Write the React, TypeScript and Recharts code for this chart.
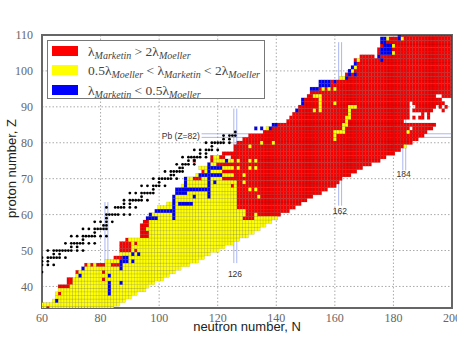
import type { FC } from 'react';
import {
  ScatterChart,
  Scatter,
  XAxis,
  YAxis,
  CartesianGrid,
  ReferenceLine,
  ReferenceArea,
  ReferenceDot,
  Legend,
} from 'recharts';

const CHART_W = 457;
const CHART_H = 343;
const MARGIN = { top: 35, right: 5, bottom: 0, left: 0 };
const X_AXIS_H = 35;
const Y_AXIS_W = 42;
const CELL_W = (CHART_W - MARGIN.right - Y_AXIS_W) / 140;
const CELL_H = (CHART_H - MARGIN.top - X_AXIS_H) / 76;

const xTicks = [60, 80, 100, 120, 140, 160, 180, 200];
const yTicks = [40, 50, 60, 70, 80, 90, 100, 110];

// first and last coloured N of each row, Z = 34 .. 110
const firstZ = 34;
const rowStart = [
  60, 60, 64, 65, 65, 66, 66, 69, 69, 72, 72, 74, 75, 82, 85, 87, 87, 87, 87, 89,
  94, 94, 94, 94, 95, 96, 97, 99, 100, 103, 105, 105, 106, 106, 108, 109, 110, 113,
  116, 114, 117, 118, 118, 122, 126, 126, 127, 129, 131, 136, 138, 139, 144, 145,
  146, 147, 148, 149, 149, 151, 152, 153, 155, 155, 162, 164, 165, 166, 167, 167,
  169, 175, 175, 176, 176, 176, 183,
];
const rowEnd = [
  84, 86, 88, 90, 92, 95, 96, 98, 101, 103, 105, 107, 110, 113, 115, 117, 120, 122,
  125, 127, 130, 132, 134, 136, 138, 140, 141, 144, 146, 148, 150, 152, 155, 157,
  160, 161, 162, 165, 167, 169, 172, 175, 177, 180, 182, 184, 186, 188, 190, 191,
  193, 194, 183, 200, 200, 200, 200, 200, 200, 200, 200, 200, 200, 200, 200, 200,
  200, 200, 200, 200, 200, 200, 200, 200, 200, 200, 200,
];
// where the red block begins, Z = 62 .. 77; above that it begins at rowStart
const redFromLow = [127, 127, 127, 127, 127, 127, 127, 127, 122, 126, 122, 126, 121, 126, 125, 122];

// [Z, from N, to N]
const redRuns: number[][] = [
  [34, 62, 62], [38, 66, 66], [40, 66, 69], [41, 69, 70], [42, 69, 70], [42, 81, 81],
  [44, 72, 72], [44, 81, 81], [46, 75, 75], [46, 77, 77], [46, 79, 81], [46, 84, 86],
  [47, 89, 89], [48, 85, 88], [50, 87, 90], [50, 92, 92], [51, 87, 90], [52, 87, 90],
  [52, 92, 92], [53, 89, 89], [54, 94, 96], [55, 94, 96], [56, 94, 95], [57, 94, 96],
  [58, 95, 96], [59, 129, 132], [60, 130, 132], [60, 134, 141], [61, 130, 144],
  [68, 125, 125], [70, 112, 114], [72, 115, 115], [74, 120, 120], [75, 112, 112],
  [75, 118, 118], [76, 118, 118], [76, 121, 122],
];
const yellowRuns: number[][] = [
  [60, 133, 133], [65, 134, 134], [67, 131, 131], [67, 133, 133], [69, 129, 129],
  [71, 122, 125], [71, 129, 129], [73, 122, 125], [73, 127, 127], [73, 131, 131],
  [73, 133, 133], [75, 122, 125], [75, 127, 127], [75, 131, 131], [75, 133, 133],
  [79, 131, 131], [80, 135, 135], [80, 139, 139], [84, 137, 138], [89, 153, 153],
  [89, 155, 155], [90, 155, 155], [91, 155, 155], [92, 155, 155], [93, 153, 155],
  [91, 160, 160], [95, 156, 156], [95, 158, 158], [95, 160, 160], [98, 162, 163],
  [100, 166, 166], [101, 167, 167], [103, 168, 168], [105, 180, 180], [107, 180, 180],
  [109, 178, 178], [109, 183, 183], [90, 165, 167], [89, 165, 165], [88, 165, 165],
  [87, 164, 165], [86, 164, 164], [85, 163, 164], [84, 163, 163], [83, 160, 163],
  [82, 160, 160], [81, 160, 160], [79, 184, 184], [83, 185, 185],
];
const blueRuns: number[][] = [
  [36, 65, 65], [38, 83, 83], [39, 83, 83], [40, 83, 83], [41, 83, 83], [41, 87, 87],
  [43, 73, 73], [43, 83, 83], [45, 74, 74], [45, 87, 87], [46, 87, 87], [47, 87, 89],
  [47, 91, 91], [48, 88, 89], [49, 91, 91], [49, 93, 93], [59, 96, 99], [60, 97, 97],
  [59, 105, 105], [60, 105, 105], [61, 99, 105], [62, 105, 105], [63, 105, 105],
  [64, 105, 105], [65, 105, 105], [63, 107, 111], [65, 112, 112], [65, 117, 117],
  [66, 106, 109], [66, 117, 117], [67, 106, 117], [68, 109, 109], [69, 109, 109],
  [70, 109, 109], [68, 117, 117], [69, 117, 117], [70, 117, 117], [69, 119, 119],
  [71, 114, 121], [72, 117, 117], [73, 117, 121], [74, 117, 117], [75, 123, 123],
  [84, 133, 133], [84, 135, 135], [84, 138, 138], [85, 139, 140], [89, 147, 147],
  [91, 149, 149], [92, 149, 149], [95, 152, 154], [96, 155, 158], [97, 155, 158],
  [97, 160, 160], [98, 164, 164], [99, 165, 165], [99, 167, 167], [100, 165, 165],
  [101, 166, 166], [102, 167, 167], [103, 176, 176], [104, 174, 175], [105, 176, 179],
  [106, 176, 179], [107, 177, 179], [108, 176, 177], [109, 176, 177], [109, 182, 182],
  [110, 182, 182],
];
const emptyRuns: number[][] = [
  [76, 123, 124], [84, 186, 186], [87, 186, 186], [87, 188, 188], [87, 191, 191],
  [87, 193, 200], [88, 186, 189], [88, 191, 191], [88, 193, 200], [89, 186, 186],
  [89, 194, 196], [89, 198, 200], [90, 186, 187], [90, 195, 195], [90, 197, 197],
  [90, 199, 200], [91, 186, 186], [91, 198, 200], [92, 197, 200], [93, 195, 196],
  [104, 174, 174],
];

// stable isotopes: Z and their N values
const stableZ = [
  44, 46, 47, 48, 49, 50, 51, 52, 53, 54, 55, 56, 57, 58, 59, 60, 62, 63, 64, 65, 66,
  67, 68, 69, 70, 71, 72, 73, 74, 75, 76, 77, 78, 79, 80, 81, 82, 83,
];
const stableN = [
  [60], [60, 62, 64], [60, 62], [60, 62, 63, 64, 65, 66, 68], [64, 66],
  [62, 64, 65, 66, 67, 68, 69, 70, 72, 74], [70, 72], [68, 70, 71, 72, 73, 74, 76, 78],
  [74], [70, 72, 74, 75, 76, 77, 78, 80, 82], [78], [74, 76, 78, 79, 80, 81, 82],
  [81, 82], [78, 80, 82, 84], [82], [82, 83, 84, 85, 86, 88, 90],
  [82, 85, 86, 87, 88, 90, 92], [88, 90], [88, 90, 91, 92, 93, 94, 96], [94],
  [90, 92, 94, 95, 96, 97, 98], [98], [94, 96, 98, 99, 100, 102], [100],
  [98, 100, 101, 102, 103, 104, 106], [104, 105], [102, 104, 105, 106, 107, 108],
  [107, 108], [106, 108, 109, 110, 112], [110, 112], [108, 110, 111, 112, 113, 114, 116],
  [114, 116], [112, 114, 116, 117, 118, 120], [118], [116, 118, 119, 120, 121, 122, 124],
  [122, 124], [122, 124, 125, 126], [126],
];

// closed shells: [N or Z, from, to]
const magicNLines = [
  [81.5, 34, 63.5], [82.5, 34, 63.5], [125.5, 46.5, 89.5], [126.5, 46.5, 89.5],
  [161.3, 62.5, 108], [162.3, 62.5, 108], [183.2, 72.3, 110], [184.2, 72.3, 110],
];
const magicZLines = [[81.5, 114.5, 200], [82.5, 114.5, 200]];

const noteText = ['Pb (Z=82)', '126', '162', '184'];
const noteN = [107.4, 125.9, 161.7, 183.5];
const noteZ = [82, 43.6, 61.1, 71.2];

const legendColors = ['#ff0000', '#ffff00', '#0000ff'];

type Cell = { n: number; z: number };

function buildCells() {
  const grid = new Map<string, string>();
  const paint = (z: number, from: number, to: number, c: string) => {
    for (let n = from; n <= to; n++) grid.set(n + '_' + z, c);
  };
  rowStart.forEach((start, i) => {
    const z = firstZ + i;
    paint(z, start, rowEnd[i], 'yellow');
    if (z >= 62) {
      const from = z <= 77 ? redFromLow[z - 62] : start;
      paint(z, from, rowEnd[i], 'red');
    }
  });
  redRuns.forEach(([z, a, b]) => paint(z, a, b, 'red'));
  yellowRuns.forEach(([z, a, b]) => paint(z, a, b, 'yellow'));
  blueRuns.forEach(([z, a, b]) => paint(z, a, b, 'blue'));
  emptyRuns.forEach(([z, a, b]) => paint(z, a, b, 'none'));
  const out: Record<string, Cell[]> = { red: [], yellow: [], blue: [] };
  grid.forEach((c, key) => {
    if (c === 'none') return;
    const [n, z] = key.split('_').map(Number);
    out[c].push({ n, z });
  });
  return out;
}

const cells = buildCells();
const stableCells: Cell[] = stableZ.flatMap((z, i) => stableN[i].map((n) => ({ n, z })));

const cellShape = (fill: string) => (props: any) => (
  <rect
    x={props.cx - CELL_W / 2}
    y={props.cy - CELL_H / 2}
    width={CELL_W}
    height={CELL_H}
    fill={fill}
    stroke="#000"
    strokeOpacity={0.2}
    strokeWidth={0.5}
  />
);

const dotShape = (props: any) => <circle cx={props.cx} cy={props.cy} r={1.4} fill="#000" />;

const Lam: FC<{ sub: string; pre?: string }> = ({ sub, pre }) => (
  <span>
    {pre}
    λ
    <sub style={{ fontSize: 10, fontStyle: 'italic', lineHeight: 0, verticalAlign: -3 }}>{sub}</sub>
  </span>
);

const legendRows = [
  <>
    <Lam sub="Marketin" /> &gt; <Lam pre="2" sub="Moeller" />
  </>,
  <>
    <Lam pre="0.5" sub="Moeller" /> &lt; <Lam sub="Marketin" /> &lt; <Lam pre="2" sub="Moeller" />
  </>,
  <>
    <Lam sub="Marketin" /> &lt; <Lam pre="0.5" sub="Moeller" />
  </>,
];

const renderLegend = () => (
  <div
    style={{
      width: 216,
      height: 57,
      border: '1.5px solid #777',
      background: '#fff',
      fontFamily: '"Liberation Serif", serif',
      fontSize: 13.5,
      color: '#444',
      whiteSpace: 'nowrap',
    }}
  >
    {legendRows.map((row, i) => (
      <div key={i} style={{ position: 'absolute', left: 41, top: 4 + i * 19.4, lineHeight: '16px' }}>
        <span
          style={{
            position: 'absolute',
            left: -36,
            top: 2,
            width: 26,
            height: 10,
            background: legendColors[i],
          }}
        />
        {row}
      </div>
    ))}
  </div>
);

const tickStyle = { fontFamily: '"Liberation Serif", serif', fontSize: 12, fill: '#666' };
const labelStyle = { fontFamily: '"Liberation Sans", sans-serif', fontSize: 13, fill: '#222' };

export default function App() {
  return (
    <div style={{ position: 'absolute', left: 0, top: 0 }}>
      <ScatterChart width={CHART_W} height={CHART_H} margin={MARGIN}>
        <CartesianGrid stroke="#aaa" strokeDasharray="1.5 2" />
        <XAxis
          type="number"
          dataKey="n"
          domain={[60, 200]}
          ticks={xTicks}
          allowDataOverflow
          interval={0}
          height={X_AXIS_H}
          tick={tickStyle}
          tickLine={false}
          axisLine={false}
          tickMargin={-1}
          label={{ value: 'neutron number, N', position: 'insideBottom', offset: 12, style: labelStyle }}
        />
        <YAxis
          type="number"
          dataKey="z"
          domain={[34, 110]}
          ticks={yTicks}
          allowDataOverflow
          interval={0}
          width={Y_AXIS_W}
          tick={tickStyle}
          tickLine={false}
          axisLine={false}
          tickMargin={3}
          label={{ value: 'proton number, Z', angle: -90, position: 'insideLeft', offset: 11, dy: -3, style: { ...labelStyle, textAnchor: 'middle' } }}
        />
        <Scatter name="red" data={cells.red} shape={cellShape('#f60000')} isAnimationActive={false} />
        <Scatter name="yellow" data={cells.yellow} shape={cellShape('#ffff00')} isAnimationActive={false} />
        <Scatter name="blue" data={cells.blue} shape={cellShape('#0000f4')} isAnimationActive={false} />
        <Scatter name="stable" data={stableCells} shape={dotShape} isAnimationActive={false} />
        {magicNLines.map(([n, a, b], i) => (
          <ReferenceLine key={'n' + i} segment={[{ x: n, y: a }, { x: n, y: b }]} stroke="#5a6ee6" strokeOpacity={0.5} strokeWidth={1} />
        ))}
        {magicZLines.map(([z, a, b], i) => (
          <ReferenceLine key={'z' + i} segment={[{ x: a, y: z }, { x: b, y: z }]} stroke="#5a6ee6" strokeOpacity={0.5} strokeWidth={1} />
        ))}
        {noteText.map((t, i) => (
          <ReferenceDot
            key={t}
            x={noteN[i]}
            y={noteZ[i]}
            r={0}
            fill="none"
            stroke="none"
            label={{ value: t, position: 'center', style: { fontFamily: '"Liberation Sans", sans-serif', fontSize: 8.5, fill: '#333' } }}
          />
        ))}
        <ReferenceArea x1={60} x2={200} y1={34} y2={110} fill="none" stroke="#666" strokeWidth={2} />
        <Legend
          layout="vertical"
          align="center"
          verticalAlign="middle"
          content={renderLegend}
          wrapperStyle={{ left: 47, top: 40, width: 219, height: 60 }}
        />
      </ScatterChart>
    </div>
  );
}
